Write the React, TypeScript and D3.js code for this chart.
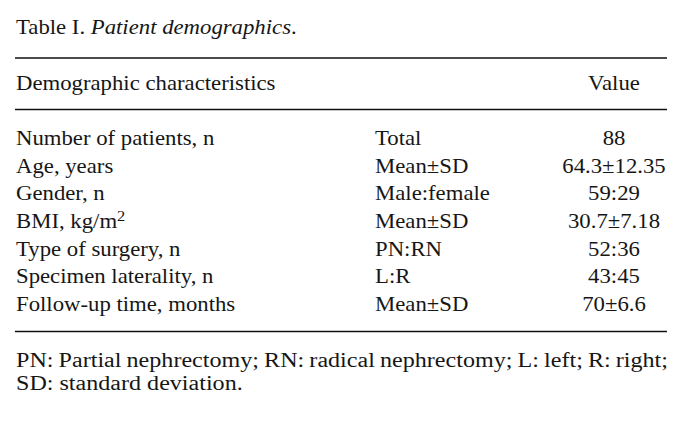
import React, { useEffect, useRef } from "react";
import * as d3 from "d3";

const title = "Table I.";
const titleItalic = "Patient demographics";
const headers = ["Demographic characteristics", "Value"];
const characteristics = [
  "Number of patients, n",
  "Age, years",
  "Gender, n",
  "BMI, kg/m^2",
  "Type of surgery, n",
  "Specimen laterality, n",
  "Follow-up time, months",
];
const statistics = ["Total", "Mean±SD", "Male:female", "Mean±SD", "PN:RN", "L:R", "Mean±SD"];
const values = ["88", "64.3±12.35", "59:29", "30.7±7.18", "52:36", "43:45", "70±6.6"];
const footnotes = [
  "PN: Partial nephrectomy; RN: radical nephrectomy; L: left; R: right;",
  "SD: standard deviation.",
];

const W = 687;
const H = 423;
const FS = 20.5;
const SX = 1.11;
const SXF = 1.175;
const FONT = "'Liberation Serif', 'Times New Roman', serif";
const COLOR = "#161616";

export default function App() {
  const ref = useRef<SVGSVGElement | null>(null);

  useEffect(() => {
    const svg = d3.select(ref.current);
    svg.selectAll("*").remove();

    const xLeft = 15;
    const xRight = 667;
    const xCol2 = 375;
    const xCol3 = 614;

    const y = d3
      .scaleLinear()
      .domain([0, characteristics.length - 1])
      .range([145, 311]);

    const addText = (x: number, yy: number, anchor: string = "start", sx: number = SX) =>
      svg
        .append("text")
        .attr("transform", `translate(${x},${yy}) scale(${sx},1)`)
        .attr("text-anchor", anchor)
        .attr("font-family", FONT)
        .attr("font-size", FS)
        .attr("fill", COLOR);

    // title
    const t = addText(16, 34);
    t.append("tspan").text(title + " ");
    t.append("tspan").attr("font-style", "italic").text(titleItalic);
    t.append("tspan").text(".");

    // rules
    const rules = [58, 109.5, 331.5];
    svg
      .selectAll("line.rule")
      .data(rules)
      .enter()
      .append("line")
      .attr("class", "rule")
      .attr("x1", xLeft)
      .attr("x2", xRight)
      .attr("y1", (d) => d)
      .attr("y2", (d) => d)
      .attr("stroke", "#111")
      .attr("stroke-width", 1.6);

    // headers
    addText(16, 90).text(headers[0]);
    addText(xCol3, 90, "middle").text(headers[1]);

    // rows
    characteristics.forEach((c, i) => {
      const el = addText(16, y(i));
      const parts = c.split("^");
      el.append("tspan").text(parts[0]);
      if (parts[1]) {
        el.append("tspan")
          .attr("font-size", FS * 0.72)
          .attr("dy", -7)
          .text(parts[1]);
      }
      addText(xCol2, y(i)).text(statistics[i]);
      addText(xCol3, y(i), "middle").text(values[i]);
    });

    // footnotes
    const fy = d3.scaleLinear().domain([0, 1]).range([367, 390]);
    footnotes.forEach((f, i) => {
      const el = addText(16, fy(i), "start", SXF).text(f);
      if (i === 0) {
        const node = el.node() as SVGTextElement;
        const natural = node.getComputedTextLength();
        const target = (xRight + 1 - 16) / SXF;
        const nSpaces = (f.match(/ /g) || []).length;
        const ws = (target - natural) / nSpaces;
        el.attr("word-spacing", ws);
      }
    });
  }, []);

  return (
    <svg
      ref={ref}
      width={W}
      height={H}
      viewBox={`0 0 ${W} ${H}`}
      style={{ position: "absolute", left: 0, top: 0, background: "#fff" }}
    />
  );
}
